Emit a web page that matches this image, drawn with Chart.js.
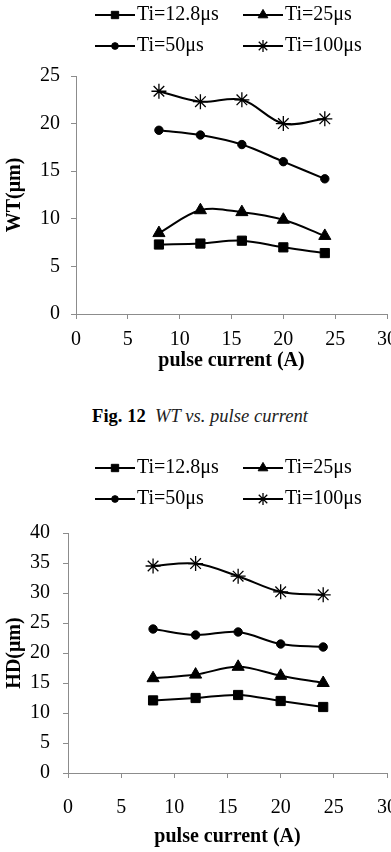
<!DOCTYPE html>
<html>
<head>
<meta charset="utf-8">
<script src="https://cdn.jsdelivr.net/npm/chart.js@4.4.0/dist/chart.umd.min.js"></script>
<style>
  html, body { margin: 0; padding: 0; background: #fff; width: 391px; height: 852px; overflow: hidden; }
  .box { position: absolute; left: 0; }
  #topBox { top: 0; }
  #botBox { top: 440px; }
  #caption {
    position: absolute; top: 404px; left: 0; width: 400px;
    text-align: center; line-height: 24px;
    font-family: "Liberation Serif", serif; font-size: 18.6px; color: #000;
  }
  #caption i { color: #222; }
</style>
</head>
<body>
<div class="box" id="topBox"><canvas id="wtChart" width="420" height="380"></canvas></div>
<div id="caption"><b>Fig. 12</b>&nbsp; <i>WT vs. pulse current</i></div>
<div class="box" id="botBox"><canvas id="hdChart" width="420" height="412"></canvas></div>
<script>
// pulse current (A) on the x axis
const pulseCurrent = [8, 12, 16, 20, 24];

const seriesLabels = ["Ti=12.8μs", "Ti=25μs", "Ti=50μs", "Ti=100μs"];
const markerStyles = ["rect", "triangle", "circle", "star"];
const markerSizes = [6.5, 7, 4.2, 7.5];

// WT (µm), Fig. 12
const wt128 = [7.3, 7.4, 7.7, 7.0, 6.4];
const wt25 = [8.5, 10.9, 10.7, 9.9, 8.2];
const wt50 = [19.3, 18.8, 17.8, 16.0, 14.2];
const wt100 = [23.4, 22.3, 22.5, 20.0, 20.5];

// HD (µm)
const hd128 = [12.1, 12.5, 13.0, 12.0, 11.0];
const hd25 = [15.8, 16.4, 17.7, 16.2, 15.0];
const hd50 = [24.0, 23.0, 23.5, 21.5, 21.0];
const hd100 = [34.5, 34.9, 32.8, 30.2, 29.7];

const serif = '"Liberation Serif", "Times New Roman", serif';
const axisGrey = "#8c8c8c";

// legend drawn as two rows of two, like the Excel original
const pairLegend = {
    id: "pairLegend",
    afterDraw(chart, args, opts) {
        const ctx = chart.ctx;
        chart.data.datasets.forEach((ds, i) => {
            const x0 = opts.cols[i % 2];
            const y = opts.rows[Math.floor(i / 2)];
            ctx.save();
            ctx.strokeStyle = "#000";
            ctx.fillStyle = "#000";
            ctx.lineWidth = 2;
            ctx.beginPath();
            ctx.moveTo(x0, y);
            ctx.lineTo(x0 + 40, y);
            ctx.stroke();
            ctx.lineWidth = ds.pointBorderWidth;
            Chart.helpers.drawPoint(ctx, {
                pointStyle: ds.pointStyle,
                rotation: 0,
                radius: ds.pointRadius * 0.8,
                borderWidth: ds.pointBorderWidth
            }, x0 + 20, y);
            ctx.font = "20px " + serif;
            ctx.textBaseline = "middle";
            ctx.textAlign = "left";
            ctx.fillText(ds.label, x0 + 42, y);
            ctx.restore();
        });
    }
};

function makeChart(id, values, yMax, yTitle, geo) {
    const datasets = values.map((vals, i) => ({
        label: seriesLabels[i],
        data: pulseCurrent.map((x, j) => ({ x: x, y: vals[j] })),
        borderColor: "#000",
        backgroundColor: "#000",
        borderWidth: 2,
        tension: 0.35,
        pointStyle: markerStyles[i],
        pointRadius: markerSizes[i],
        pointBorderWidth: i === 3 ? 1.3 : 1,
        pointBackgroundColor: "#000",
        pointBorderColor: "#000"
    }));

    return new Chart(document.getElementById(id), {
        type: "line",
        data: { datasets },
        options: {
            responsive: false,
            animation: false,
            devicePixelRatio: 1,
            layout: { padding: { top: geo.top, right: geo.right, bottom: geo.bottom, left: 0 } },
            plugins: {
                legend: { display: false },
                tooltip: { enabled: false },
                pairLegend: { rows: geo.legendRows, cols: [95, 243] }
            },
            scales: {
                x: {
                    type: "linear",
                    min: 0,
                    max: 30,
                    ticks: { stepSize: 5, padding: geo.xPad, color: "#000", font: { family: serif, size: 20 } },
                    grid: { drawOnChartArea: false, tickLength: 5, color: axisGrey },
                    border: { color: axisGrey },
                    title: {
                        display: true,
                        text: "pulse current (A)",
                        color: "#000",
                        padding: 0,
                        font: { family: serif, size: 20, weight: "bold" }
                    },
                    afterFit: (s) => { s.height = geo.xH; }
                },
                y: {
                    min: 0,
                    max: yMax,
                    ticks: { stepSize: 5, padding: geo.yPad, color: "#000", font: { family: serif, size: 20 } },
                    grid: { drawOnChartArea: false, tickLength: 5, color: axisGrey },
                    border: { color: axisGrey },
                    title: {
                        display: true,
                        text: yTitle,
                        color: "#000",
                        padding: { top: 3, bottom: 0 },
                        font: { family: serif, size: 20, weight: "bold" }
                    },
                    afterFit: (s) => { s.width = geo.yW; }
                }
            }
        },
        plugins: [pairLegend]
    });
}

makeChart("wtChart", [wt128, wt25, wt50, wt100], 25, "WT(μm)", {
    top: 76, right: 33, bottom: 7, xH: 59, yW: 76, xPad: 9, yPad: 11,
    legendRows: [15, 46]
});

makeChart("hdChart", [hd128, hd25, hd50, hd100], 40, "HD(μm)", {
    top: 93, right: 33, bottom: 3, xH: 76, yW: 68, xPad: 18, yPad: 13,
    legendRows: [28, 59]
});
</script>
</body>
</html>
